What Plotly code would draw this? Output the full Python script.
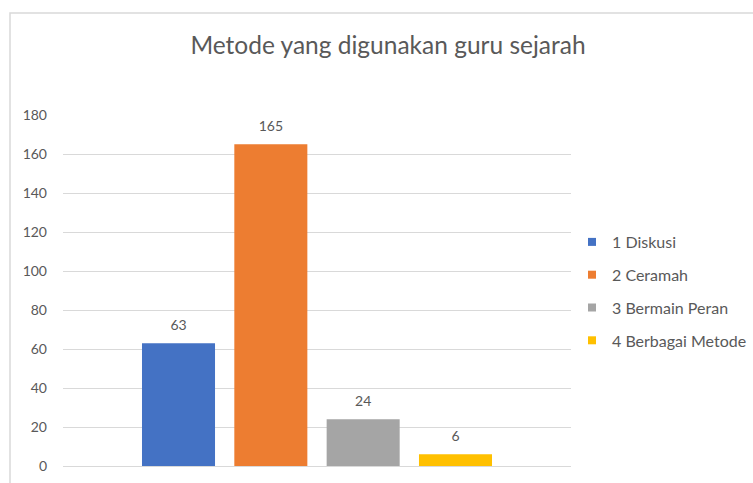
import plotly.graph_objects as go

title = "Metode yang digunakan guru sejarah"
series_names = ["1 Diskusi", "2 Ceramah", "3 Bermain Peran", "4 Berbagai Metode"]
series_values = [63, 165, 24, 6]
series_colors = ["#4472C4", "#ED7D31", "#A5A5A5", "#FFC000"]
category = ["Metode"]
y_ticks = [0, 20, 40, 60, 80, 100, 120, 140, 160, 180]

FONT = "Lato, Carlito, Calibri, sans-serif"
TXT = "#595959"

fig = go.Figure()
for i, (name, val, col) in enumerate(zip(series_names, series_values, series_colors)):
    fig.add_trace(go.Bar(
        x=category, y=[val], name=name,
        marker=dict(color=col, line=dict(width=0)),
        texttemplate="<span style='font-size:14px'>%{y}</span><br> ",
        textposition="outside",
        textfont=dict(size=7, color=TXT, family=FONT),
        cliponaxis=False,
        showlegend=False,
        hoverinfo="skip",
    ))
for i, (name, col) in enumerate(zip(series_names, series_colors)):
    fig.add_trace(go.Scatter(
        x=[None], y=[None], name=name, mode="markers",
        marker=dict(symbol="square", size=8, color=col),
        legendgroup=f"g{i}", showlegend=True,
    ))

W, H = 753, 483
L, R, T, B = 63, 182, 115, 17
pw, ph = W - L - R, H - T - B

def px_x(p):
    return (p - L) / pw

def px_y(p):
    return (H - B - p) / ph

fig.update_layout(
    width=W, height=H,
    margin=dict(l=L, r=R, t=T, b=B, autoexpand=False),
    paper_bgcolor="white", plot_bgcolor="white",
    barmode="group", bargap=0.273, bargroupgap=0.209,
    font=dict(family=FONT, color=TXT, size=14),
    title=dict(text=title, font=dict(size=24.5, color=TXT, family=FONT),
               xref="paper", x=px_x(388), xanchor="center",
               yref="container", y=1 - 45 / H, yanchor="middle"),
    showlegend=True,
    legend=dict(x=px_x(572), xanchor="left", y=px_y(225), yanchor="top",
                font=dict(size=16, color=TXT, family=FONT),
                tracegroupgap=9, itemwidth=30, bgcolor="rgba(0,0,0,0)"),
    xaxis=dict(showticklabels=False, showgrid=False, showline=False, zeroline=False, ticks=""),
    yaxis=dict(range=[0, 180], tickvals=y_ticks, showgrid=True, gridcolor="#D9D9D9", gridwidth=1,
               zeroline=True, zerolinecolor="#D9D9D9", zerolinewidth=1, showline=False, ticks="",
               tickfont=dict(size=14, color=TXT, family=FONT), ticklabelstandoff=15),
    shapes=[dict(type="rect", xref="paper", yref="paper",
                 x0=px_x(10), x1=px_x(800), y0=px_y(500), y1=px_y(13),
                 line=dict(color="#D9D9D9", width=1.5), fillcolor="rgba(0,0,0,0)", layer="below")],
)

fig.write_html("out.html", config={"displayModeBar": False},
               post_script="document.body.style.margin='0';document.body.style.overflow='hidden';")
